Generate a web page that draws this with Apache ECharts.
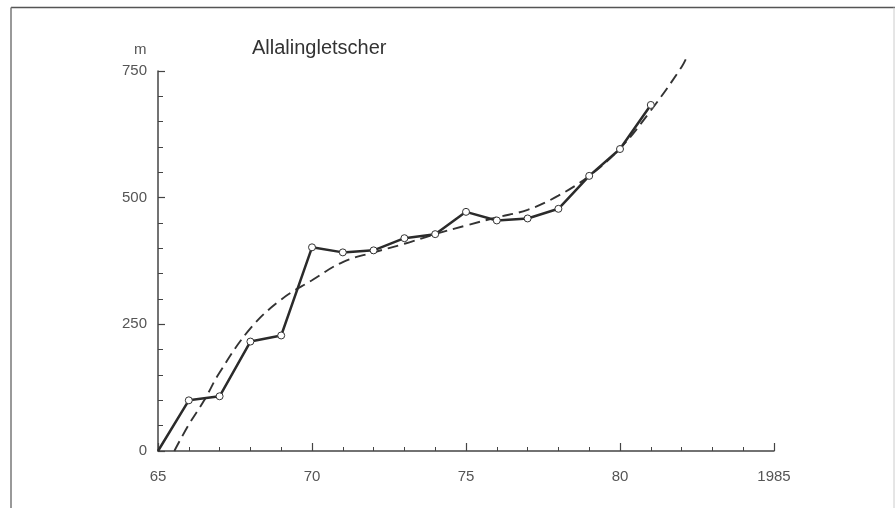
<!DOCTYPE html>
<html>
<head>
<meta charset="utf-8">
<script src="https://cdn.jsdelivr.net/npm/echarts@6/dist/echarts.min.js"></script>
<style>
html,body{margin:0;padding:0;background:#fff;}
#chart{width:895px;height:508px;}
</style>
</head>
<body>
<div id="chart"></div>
<script>
// Measured data (year 19xx, length change in m)
var years = [65, 66, 67, 68, 69, 70, 71, 72, 73, 74, 75, 76, 77, 78, 79, 80, 81];
var lengthValues = [0, 100, 108, 216, 228, 402, 392, 396, 420, 428, 472, 455, 459, 478, 543, 596, 683];
// Dashed trend curve
var trendYears = [65.53, 66, 66.5, 67, 68, 69, 70, 71, 72, 73, 74, 75, 76, 77, 78, 79, 80, 81, 82, 82.2];
var trendValues = [0, 52, 100, 155, 242, 299, 337, 373, 392, 409, 428, 445, 461, 476, 504, 543, 597, 672, 758, 782];
var xTickLabels = {65: '65', 70: '70', 75: '75', 80: '80', 85: '1985'};
var yTickLabels = [0, 250, 500, 750];
var titleText = 'Allalingletscher';
var unitText = 'm';

var chart = echarts.init(document.getElementById('chart'), null, {renderer: 'canvas'});
var labelFont = '"Liberation Sans", Arial, sans-serif';
var solidData = years.map(function (y, i) {
  var d = {value: [y, lengthValues[i]]};
  if (i === 0) { d.symbolSize = 0; }
  return d;
});
var trendData = trendYears.map(function (y, i) { return [y, trendValues[i]]; });

chart.setOption({
  animation: false,
  backgroundColor: '#fff',
  grid: {left: 158, right: 121, top: 71, bottom: 57, containLabel: false},
  xAxis: {
    type: 'value', min: 65, max: 85, interval: 5,
    axisLine: {show: true, lineStyle: {color: '#444', width: 1.5}},
    axisTick: {show: true, inside: true, length: 8, lineStyle: {color: '#444', width: 1.2}},
    minorTick: {show: true, splitNumber: 5, length: 4, lineStyle: {color: '#444', width: 1}},
    splitLine: {show: false},
    axisLabel: {
      margin: 18, color: '#555', fontSize: 15, fontFamily: labelFont,
      formatter: function (v) { return xTickLabels[v] !== undefined ? xTickLabels[v] : ''; }
    }
  },
  yAxis: {
    type: 'value', min: 0, max: 750, interval: 250,
    axisLine: {show: true, lineStyle: {color: '#444', width: 1.5}},
    axisTick: {show: true, inside: true, length: 7, lineStyle: {color: '#444', width: 1.2}},
    minorTick: {show: true, splitNumber: 5, length: 5, lineStyle: {color: '#444', width: 1}},
    splitLine: {show: false},
    axisLabel: {
      margin: 11, color: '#555', fontSize: 15, fontFamily: labelFont,
      formatter: function (v) { return yTickLabels.indexOf(v) >= 0 ? String(v) : ''; }
    }
  },
  graphic: [
    {type: 'line', shape: {x1: 11, y1: 7.5, x2: 895, y2: 7.5}, style: {stroke: '#555', lineWidth: 1.5}},
    {type: 'line', shape: {x1: 11, y1: 7.5, x2: 11, y2: 508}, style: {stroke: '#777', lineWidth: 1.5}},
    {type: 'line', shape: {x1: 894, y1: 7.5, x2: 894, y2: 508}, style: {stroke: '#ccc', lineWidth: 1}},
    {type: 'text', left: 134, top: 42, style: {text: unitText, fill: '#555', font: '15px ' + labelFont}},
    {type: 'text', left: 252, top: 38, style: {text: titleText, fill: '#333', font: '20px ' + labelFont}}
  ],
  series: [
    {
      type: 'line', data: trendData, smooth: 0.4, showSymbol: false, symbol: 'none', clip: false,
      lineStyle: {color: '#333', width: 1.9, type: [11, 6]}, z: 2
    },
    {
      type: 'line', data: solidData, symbol: 'circle', symbolSize: 7, showSymbol: true,
      lineStyle: {color: '#2b2b2b', width: 2.5},
      itemStyle: {color: '#fff', borderColor: '#333', borderWidth: 1},
      z: 3
    }
  ]
});
</script>
</body>
</html>
